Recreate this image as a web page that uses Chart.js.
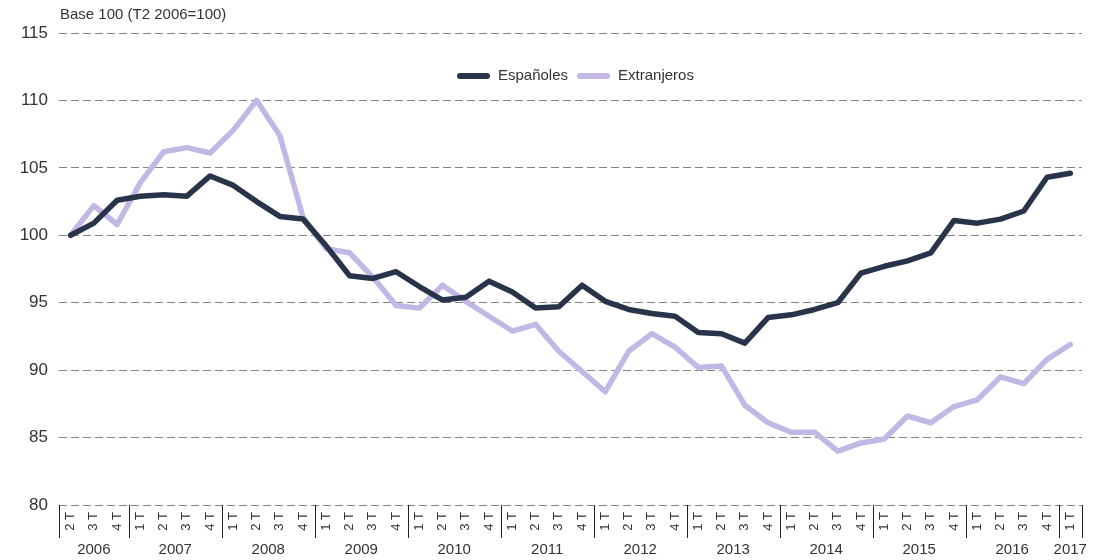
<!DOCTYPE html>
<html>
<head>
<meta charset="utf-8">
<script src="https://cdn.jsdelivr.net/npm/chart.js@4.4.1/dist/chart.umd.min.js"></script>
<style>
  html, body { margin: 0; padding: 0; background: #fff; }
</style>
</head>
<body>
<canvas id="chart" width="1093" height="560"></canvas>
<script>
// quarters from 2T 2006 to 1T 2017
const quarters = [
  '2 T', '3 T', '4 T',
  '1 T', '2 T', '3 T', '4 T',
  '1 T', '2 T', '3 T', '4 T',
  '1 T', '2 T', '3 T', '4 T',
  '1 T', '2 T', '3 T', '4 T',
  '1 T', '2 T', '3 T', '4 T',
  '1 T', '2 T', '3 T', '4 T',
  '1 T', '2 T', '3 T', '4 T',
  '1 T', '2 T', '3 T', '4 T',
  '1 T', '2 T', '3 T', '4 T',
  '1 T', '2 T', '3 T', '4 T',
  '1 T'
];
const years = ['2006', '2007', '2008', '2009', '2010', '2011', '2012', '2013', '2014', '2015', '2016', '2017'];

const espanoles = [
  100.0, 100.9, 102.6,
  102.9, 103.0, 102.9, 104.4,
  103.7, 102.5, 101.4, 101.2,
  99.2, 97.0, 96.8, 97.3,
  96.2, 95.2, 95.4, 96.6,
  95.8, 94.6, 94.7, 96.3,
  95.1, 94.5, 94.2, 94.0,
  92.8, 92.7, 92.0, 93.9,
  94.1, 94.5, 95.0, 97.2,
  97.7, 98.1, 98.7, 101.1,
  100.9, 101.2, 101.8, 104.3,
  104.6
];
const extranjeros = [
  100.0, 102.2, 100.8,
  103.9, 106.2, 106.5, 106.1,
  107.8, 110.0, 107.4, 101.3,
  99.0, 98.7, 96.9, 94.8,
  94.6, 96.3, 95.1, 94.0,
  92.9, 93.4, 91.4, 89.9,
  88.4, 91.4, 92.7, 91.7,
  90.2, 90.3, 87.4, 86.1,
  85.4, 85.4, 84.0, 84.6,
  84.9, 86.6, 86.1, 87.3,
  87.8, 89.5, 89.0, 90.8,
  91.9
];

const seriesNames = ['Españoles', 'Extranjeros'];
const seriesColors = ['#29344b', '#c3b7e6'];
const yMin = 80, yMax = 115, yStep = 5;

const FONT = '"Liberation Sans", Arial, sans-serif';

// year separators + year labels under the quarter ticks
const yearAxis = {
  id: 'yearAxis',
  afterDraw(chart) {
    const x = chart.scales.x;
    const ctx = chart.ctx;
    const half = (x.getPixelForValue(1) - x.getPixelForValue(0)) / 2;
    const top = chart.chartArea.bottom;
    const starts = [0];
    quarters.forEach((q, i) => { if (i > 0 && q === '1 T') starts.push(i); });
    const edge = i => i < quarters.length ? x.getPixelForValue(i) - half : x.getPixelForValue(quarters.length - 1) + half;
    ctx.save();
    ctx.strokeStyle = '#222';
    ctx.lineWidth = 1;
    const all = starts.concat([quarters.length]);
    all.forEach(i => {
      const px = Math.round(edge(i)) + 0.5;
      ctx.beginPath();
      ctx.moveTo(px, top);
      ctx.lineTo(px, top + 33);
      ctx.stroke();
    });
    ctx.fillStyle = '#333';
    ctx.font = '15px ' + FONT;
    ctx.textAlign = 'center';
    ctx.textBaseline = 'middle';
    years.forEach((y, k) => {
      const cx = (edge(all[k]) + edge(all[k + 1])) / 2;
      ctx.fillText(y, cx, top + 45);
    });
    ctx.restore();
  }
};

// unit note + legend drawn inside the plot
const extras = {
  id: 'extras',
  afterDraw(chart) {
    const ctx = chart.ctx;
    ctx.save();
    ctx.fillStyle = '#333';
    ctx.font = '15px ' + FONT;
    ctx.textAlign = 'left';
    ctx.textBaseline = 'middle';
    ctx.fillText('Base 100 (T2 2006=100)', 60, 15);

    ctx.font = '15px ' + FONT;
    let lx = 460;
    const ly = 76;
    seriesNames.forEach((name, i) => {
      ctx.strokeStyle = seriesColors[i];
      ctx.lineWidth = 6;
      ctx.lineCap = 'round';
      ctx.beginPath();
      ctx.moveTo(lx, ly);
      ctx.lineTo(lx + 27, ly);
      ctx.stroke();
      ctx.fillText(name, lx + 38, ly);
      lx += 38 + ctx.measureText(name).width + 12;
    });
    ctx.restore();
  }
};

new Chart(document.getElementById('chart'), {
  type: 'line',
  data: {
    labels: quarters,
    datasets: [
      { label: seriesNames[0], data: espanoles, borderColor: seriesColors[0], backgroundColor: seriesColors[0] },
      { label: seriesNames[1], data: extranjeros, borderColor: seriesColors[1], backgroundColor: seriesColors[1] }
    ]
  },
  options: {
    responsive: false,
    devicePixelRatio: 1,
    animation: false,
    layout: { padding: { top: 33, right: 11, left: 0, bottom: 0 } },
    elements: {
      line: { borderWidth: 5.5, tension: 0, borderJoinStyle: 'round', borderCapStyle: 'round' },
      point: { radius: 0, hoverRadius: 0 }
    },
    plugins: {
      legend: { display: false },
      title: { display: false },
      tooltip: { enabled: false }
    },
    scales: {
      x: {
        offset: true,
        afterFit(scale) { scale.height = 55; },
        grid: { display: false, drawTicks: false },
        border: { display: false },
        ticks: {
          autoSkip: false,
          minRotation: 90,
          maxRotation: 90,
          padding: 7,
          color: '#333',
          font: { size: 13, family: FONT }
        }
      },
      y: {
        min: yMin,
        max: yMax,
        afterFit(scale) { scale.width = 59; },
        ticks: {
          stepSize: yStep,
          padding: 11,
          color: '#333',
          font: { size: 17, family: FONT }
        },
        grid: { color: '#858585', lineWidth: 1, drawTicks: false },
        border: { display: false, dash: [8, 4] }
      }
    }
  },
  plugins: [yearAxis, extras]
});
</script>
</body>
</html>
